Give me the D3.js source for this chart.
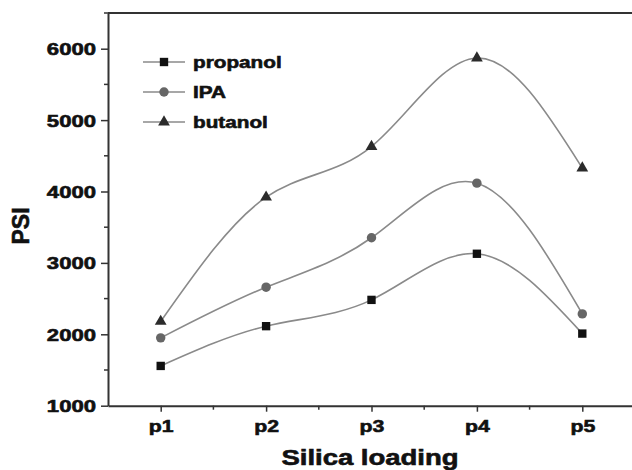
<!DOCTYPE html>
<html>
<head>
<meta charset="utf-8">
<script src="https://cdn.jsdelivr.net/npm/d3@7"></script>
<style>
  body { margin: 0; background: #fff; }
  text { font-family: "Liberation Sans", Arial, sans-serif; font-weight: bold; fill: #111; stroke: #111; stroke-width: 0.6px; }
</style>
</head>
<body>
<svg id="chart" width="632" height="470"></svg>
<script>
const categories = ["p1", "p2", "p3", "p4", "p5"];
const propanol = [1557, 2114, 2482, 3128, 2010];
const ipa = [1950, 2660, 3352, 4117, 2286];
const butanol = [2180, 3920, 4630, 5870, 4327];
const yTicks = [1000, 2000, 3000, 4000, 5000, 6000];
const yMinorTicks = [1500, 2500, 3500, 4500, 5500, 6500];
const xMinorTicks = [1.5, 2.5, 3.5, 4.5];

const series = [
  { name: "propanol", values: propanol, shape: d3.symbolSquare, fill: "#111" },
  { name: "IPA", values: ipa, shape: d3.symbolCircle, fill: "#666" },
  { name: "butanol", values: butanol, shape: d3.symbolTriangle, fill: "#2b2b2b" }
];

const stretch = 1.25;   // reference text is widened horizontally
const svg = d3.select("#chart");

const x = d3.scaleLinear().domain([0.5, 5.5]).range([108, 635]);
const y = d3.scaleLinear().domain([1000, 6500]).range([405.7, 13]);

// frame: top border
svg.append("line")
  .attr("x1", x(0.5)).attr("x2", 632)
  .attr("y1", y(6500)).attr("y2", y(6500))
  .attr("stroke", "#333").attr("stroke-width", 2);

// y axis
const yAxis = svg.append("g")
  .attr("transform", `translate(${x(0.5)},0)`)
  .call(d3.axisLeft(y).tickValues(yTicks).tickSize(7).tickSizeOuter(0).tickFormat(d3.format("d")));
yAxis.select(".domain").attr("stroke", "#333").attr("stroke-width", 2);
yAxis.selectAll(".tick line").attr("stroke", "#333").attr("stroke-width", 1.5);
yAxis.selectAll(".tick text")
  .attr("x", null).attr("dy", null)
  .attr("transform", "translate(-12,6) scale(1.3,1)")
  .style("font-size", "17px");

svg.append("g").selectAll("line")
  .data(yMinorTicks)
  .join("line")
  .attr("x1", x(0.5) - 4).attr("x2", x(0.5))
  .attr("y1", d => y(d)).attr("y2", d => y(d))
  .attr("stroke", "#333").attr("stroke-width", 1.5);

// x axis
const xAxis = svg.append("g")
  .attr("transform", `translate(0,${y(1000)})`)
  .call(d3.axisBottom(x).tickValues([1, 2, 3, 4, 5]).tickSize(6).tickSizeOuter(0)
    .tickFormat((d, i) => categories[i]));
xAxis.select(".domain").attr("stroke", "#333").attr("stroke-width", 2);
xAxis.selectAll(".tick line").attr("stroke", "#333").attr("stroke-width", 1.5);
xAxis.selectAll(".tick text")
  .attr("y", null).attr("dy", null)
  .attr("transform", "translate(0,26) scale(1.25,1)")
  .style("font-size", "17px");

svg.append("g").selectAll("line")
  .data(xMinorTicks)
  .join("line")
  .attr("x1", d => x(d)).attr("x2", d => x(d))
  .attr("y1", y(1000)).attr("y2", y(1000) + 4)
  .attr("stroke", "#333").attr("stroke-width", 1.5);

// axis titles
svg.append("text")
  .attr("text-anchor", "middle")
  .attr("transform", `translate(370,465) scale(${stretch},1)`)
  .style("font-size", "22px")
  .text("Silica loading");

svg.append("text")
  .attr("text-anchor", "middle")
  .attr("transform", "translate(29,226) rotate(-90)")
  .style("font-size", "23px")
  .text("PSI");

// lines
const line = d3.line()
  .x((d, i) => x(i + 1))
  .y(d => y(d))
  .curve(d3.curveNatural);

svg.append("g").selectAll("path")
  .data(series)
  .join("path")
  .attr("d", d => line(d.values))
  .attr("fill", "none")
  .attr("stroke", "#8a8a8a")
  .attr("stroke-width", 1.6);

// markers
const symbolSize = { "propanol": 70, "IPA": 70, "butanol": 60 };
series.forEach(s => {
  svg.append("g").selectAll("path")
    .data(s.values)
    .join("path")
    .attr("transform", (d, i) => `translate(${x(i + 1)},${y(d)})`)
    .attr("d", d3.symbol().type(s.shape).size(symbolSize[s.name]))
    .attr("fill", s.fill);
});

// legend
const legend = svg.append("g");
series.forEach((s, i) => {
  const ly = 62 + i * 30;
  legend.append("line")
    .attr("x1", 143).attr("x2", 185)
    .attr("y1", ly).attr("y2", ly)
    .attr("stroke", "#8a8a8a").attr("stroke-width", 1.6);
  legend.append("path")
    .attr("transform", `translate(164,${ly})`)
    .attr("d", d3.symbol().type(s.shape).size(symbolSize[s.name]))
    .attr("fill", s.fill);
  legend.append("text")
    .attr("transform", `translate(193,${ly + 6}) scale(1.22,1)`)
    .style("font-size", "17px")
    .text(s.name);
});
</script>
</body>
</html>
